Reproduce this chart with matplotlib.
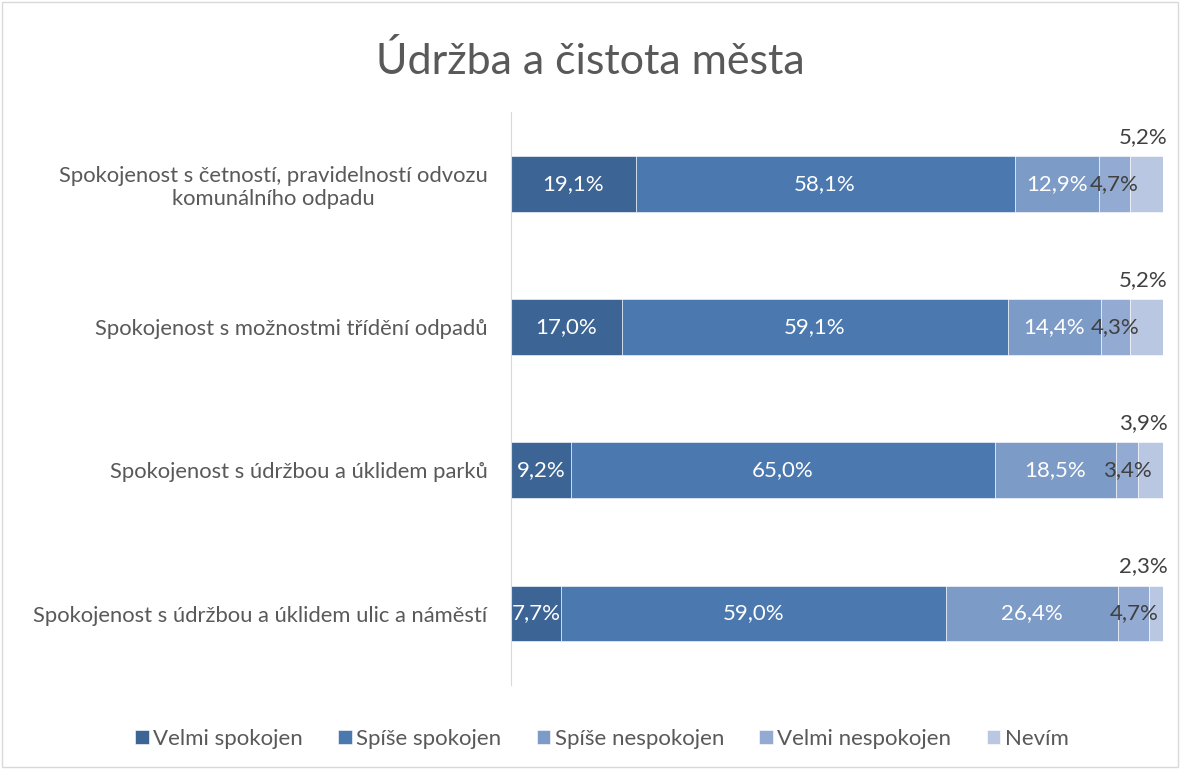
import matplotlib.pyplot as plt
from matplotlib.patches import Rectangle

plt.rcParams['font.family'] = ['Lato', 'DejaVu Sans']

categories = [
    'Spokojenost s četností, pravidelností odvozu\nkomunálního odpadu',
    'Spokojenost s možnostmi třídění odpadů',
    'Spokojenost s údržbou a úklidem parků',
    'Spokojenost s údržbou a úklidem ulic a náměstí',
]
series = ['Velmi spokojen', 'Spíše spokojen', 'Spíše nespokojen', 'Velmi nespokojen', 'Nevím']
velmi_spokojen = [19.1, 17.0, 9.2, 7.7]
spise_spokojen = [58.1, 59.1, 65.0, 59.0]
spise_nespokojen = [12.9, 14.4, 18.5, 26.4]
velmi_nespokojen = [4.7, 4.3, 3.4, 4.7]
nevim = [5.2, 5.2, 3.9, 2.3]

values = [velmi_spokojen, spise_spokojen, spise_nespokojen, velmi_nespokojen, nevim]
colors = ['#3C6494', '#4A78AF', '#7D9BC7', '#93AAD2', '#BAC7E2']
text_col = '#595959'

fig = plt.figure(figsize=(11.8, 7.69), dpi=100)
ax = fig.add_axes([0.433, 0.109, 0.553, 0.745])

y = list(range(len(categories)))
left = [0.0] * len(categories)
for i, (name, vals, col) in enumerate(zip(series, values, colors)):
    bars = ax.barh(y, vals, left=left, height=0.39, color=col, label=name,
                   edgecolor='white', linewidth=0.4)
    for j, (b, v) in enumerate(zip(bars, vals)):
        lbl = f'{v:.1f}%'.replace('.', ',')
        cx = left[j] + v / 2
        if i == 4:
            ax.text(left[j] + v + 0.6, j - 0.26, lbl, ha='right', va='bottom',
                    fontsize=16, color='#404040')
        elif i == 3:
            ax.text(cx, j, lbl, ha='center', va='center', fontsize=16, color='#404040')
        else:
            ax.text(cx, j, lbl, ha='center', va='center', fontsize=16, color='white')
    left = [l + v for l, v in zip(left, vals)]

ax.set_xlim(0, 100)
ax.set_ylim(3.5, -0.5)
ax.set_yticks(y)
ax.set_yticklabels(categories, fontsize=15.8, color=text_col, multialignment='center')
ax.tick_params(axis='y', length=0, pad=17)
ax.set_xticks([])
for s in ['top', 'right', 'bottom']:
    ax.spines[s].set_visible(False)
ax.spines['left'].set_color('#D9D9D9')

fig.suptitle('Údržba a čistota města', fontsize=31, color=text_col, y=0.947)

leg = fig.legend(loc='lower center', bbox_to_anchor=(0.51, 0.0), ncol=5, frameon=False,
                 fontsize=16, handlelength=0.6, handleheight=0.6, handletextpad=0.2,
                 columnspacing=1.6)
for t in leg.get_texts():
    t.set_color(text_col)

fig.patches.append(Rectangle((0.002, 0.002), 0.996, 0.996, transform=fig.transFigure,
                             fill=False, edgecolor='#D9D9D9', linewidth=1))

fig.savefig('out.png', dpi=100)
